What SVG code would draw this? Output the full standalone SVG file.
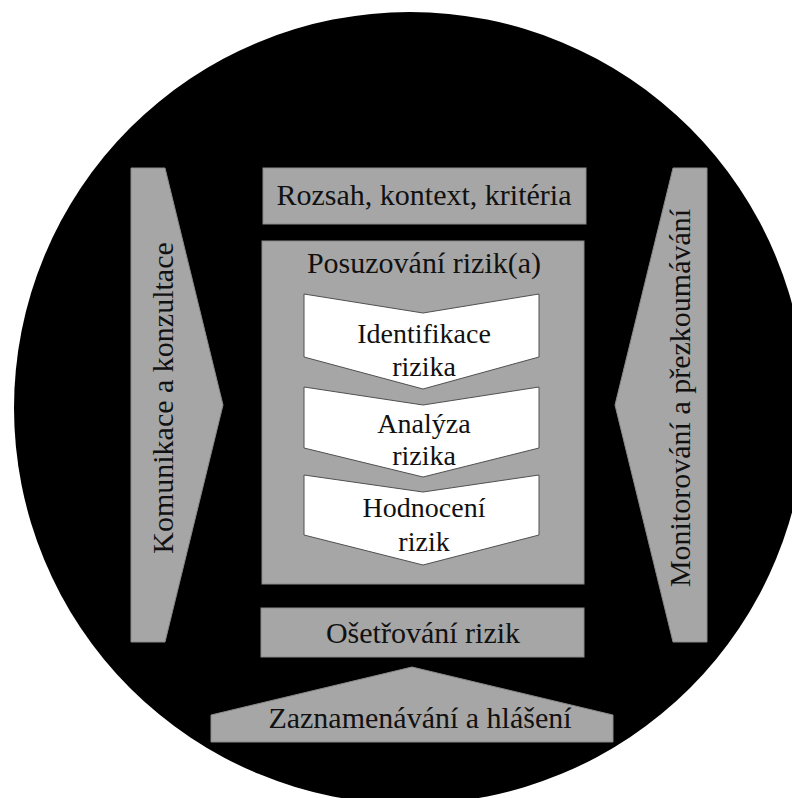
<svg xmlns="http://www.w3.org/2000/svg" width="792" height="798" viewBox="0 0 792 798">
<defs>
<style>
.g{fill:#a6a6a6;stroke:#8a8a8a;stroke-width:1}
.w{fill:#ffffff;stroke:#505050;stroke-width:1}
</style>
</defs>
<rect x="0" y="0" width="792" height="798" fill="#ffffff"/>
<circle id="background" cx="410" cy="408" r="396" fill="#000000"/>
<g id="komunikace">
<polygon class="g" points="131,168 165,168 223,405 165,642 131,642"/>
<text style="font-family:'Liberation Serif',serif;font-size:30px;fill:#111111;text-anchor:middle" transform="translate(173,398) rotate(-90)">Komunikace a konzultace</text>
</g>
<g id="monitorovani">
<polygon class="g" points="707,168 673,168 615,405 673,642 707,642"/>
<text style="font-family:'Liberation Serif',serif;font-size:30px;fill:#111111;text-anchor:middle" transform="translate(690,398) rotate(-90)">Monitorování a přezkoumávání</text>
</g>
<g id="rozsah">
<rect class="g" x="263" y="168" width="323" height="56"/>
<text style="font-family:'Liberation Serif',serif;font-size:30px;fill:#111111;text-anchor:middle" x="424" y="205">Rozsah, kontext, kritéria</text>
</g>
<g id="posuzovani">
<rect class="g" x="262" y="241" width="322" height="343"/>
<text style="font-family:'Liberation Serif',serif;font-size:30px;fill:#111111;text-anchor:middle" x="424" y="273">Posuzování rizik(a)</text>
</g>
<g id="identifikace">
<polygon class="w" points="304,294 423,313 539,294 539,357 423,389 304,357"/>
<text style="font-family:'Liberation Serif',serif;font-size:28px;fill:#111111;text-anchor:middle" x="424" y="343">Identifikace</text>
<text style="font-family:'Liberation Serif',serif;font-size:28px;fill:#111111;text-anchor:middle" x="424" y="376">rizika</text>
</g>
<g id="analyza">
<polygon class="w" points="304,387 423,405 539,387 539,448 423,477 304,448"/>
<text style="font-family:'Liberation Serif',serif;font-size:28px;fill:#111111;text-anchor:middle" x="424" y="433">Analýza</text>
<text style="font-family:'Liberation Serif',serif;font-size:28px;fill:#111111;text-anchor:middle" x="424" y="465">rizika</text>
</g>
<g id="hodnoceni">
<polygon class="w" points="304,475 423,492 539,475 539,535 423,565 304,535"/>
<text style="font-family:'Liberation Serif',serif;font-size:28px;fill:#111111;text-anchor:middle" x="424" y="517">Hodnocení</text>
<text style="font-family:'Liberation Serif',serif;font-size:28px;fill:#111111;text-anchor:middle" x="424" y="551">rizik</text>
</g>
<g id="osetrovani">
<rect class="g" x="261" y="608" width="323" height="49"/>
<text style="font-family:'Liberation Serif',serif;font-size:30px;fill:#111111;text-anchor:middle" x="423" y="643">Ošetřování rizik</text>
</g>
<g id="zaznamenavani">
<polygon class="g" points="412,667 613,715 613,742 211,742 211,715"/>
<text style="font-family:'Liberation Serif',serif;font-size:30px;fill:#111111;text-anchor:middle" x="420" y="728">Zaznamenávání a hlášení</text>
</g>
<g id="connectors"></g>
</svg>
